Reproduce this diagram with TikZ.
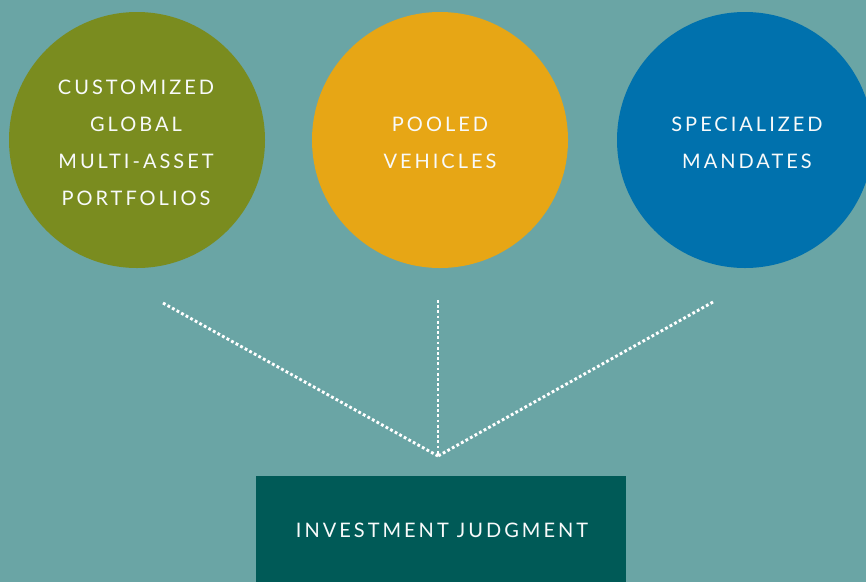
\documentclass[tikz,border=0pt]{standalone}
\usepackage{fontspec}
\newfontfamily\lab[LetterSpace=15]{Lato}
\definecolor{bgteal}{HTML}{6AA5A5}
\definecolor{olive}{HTML}{7A8C1F}
\definecolor{amber}{HTML}{E7A615}
\definecolor{ocean}{HTML}{0071AD}
\definecolor{deepteal}{HTML}{005A57}
\begin{document}
\begin{tikzpicture}[x=1pt,y=-1pt,
  bubble/.style={circle, minimum size=256pt, inner sep=0pt},
  caption/.style={text=white!95!bgteal, align=center, font=\lab\fontsize{20}{37}\selectfont},
  linkline/.style={draw=white, line width=2.9pt, dash pattern=on 2.8pt off 2.4pt}]
  % background
  \fill[bgteal] (0,0) rectangle (866,582);
  \useasboundingbox (0,0) rectangle (866,582);
  % three offerings
  \node[bubble, fill=olive] (cust) at (137,140) {};
  \node[bubble, fill=amber] (pool) at (440,140) {};
  \begin{scope}
    \clip (0,0) rectangle (866,582);
    \node[bubble, fill=ocean] (spec) at (745,140) {};
  \end{scope}
  \node[caption] (custt) at (136,143) {CUSTOMIZED\\GLOBAL\\MULTI-ASSET\\PORTFOLIOS};
  \node[caption] (poolt) at (440,143) {POOLED\\VEHICLES};
  \node[caption] (spect) at (747,143) {SPECIALIZED\\MANDATES};
  % base box
  \fill[deepteal] (256,476) rectangle (626,582);
  \node[caption] (judg) at (442,530) {INVESTMENT JUDGMENT};
  % dotted connectors
  \coordinate (la) at (163,303);
  \coordinate (ma) at (438,300);
  \coordinate (ra) at (713,302);
  \coordinate (meet) at (438,456);
  \draw[linkline] (la) -- (meet);
  \draw[linkline] (ma) -- (meet);
  \draw[linkline] (ra) -- (meet);
\end{tikzpicture}
\end{document}
